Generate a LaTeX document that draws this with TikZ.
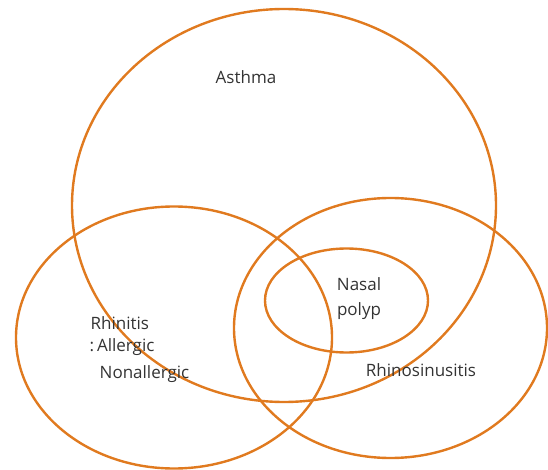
\documentclass[tikz,border=0pt]{standalone}
\usepackage{fontspec}
\setmainfont{Open Sans}
\definecolor{ring}{HTML}{E07A1F}
\definecolor{txt}{HTML}{333333}
\begin{document}
\begin{tikzpicture}[x=1pt,y=-1pt,
  ringline/.style={draw=ring,line width=2.4pt},
  lbl/.style={text=txt,font=\fontsize{17}{25}\selectfont,inner sep=0pt}]
\useasboundingbox (0,0) rectangle (548,470);
\draw[ringline] (284,205.5) ellipse [x radius=212,y radius=196.5];
\draw[ringline] (174,337.5) ellipse [x radius=158,y radius=131];
\draw[ringline] (390.5,328) ellipse [x radius=156.5,y radius=130];
\draw[ringline] (346.5,300.5) ellipse [x radius=81.5,y radius=52];
\node[lbl] (asthma) at (246,77) {Asthma};
\node[lbl,align=center] (polyp) at (359,298.5) {Nasal\\polyp};
\node[lbl,anchor=west] (rh1) at (90.5,323) {Rhinitis};
\node[lbl,anchor=west] (rh2) at (89.5,347) {:\,Allergic};
\node[lbl,anchor=west] (rh3) at (99.5,374) {Nonallergic};
\node[lbl] (rs) at (421,370) {Rhinosinusitis};
\end{tikzpicture}
\end{document}
